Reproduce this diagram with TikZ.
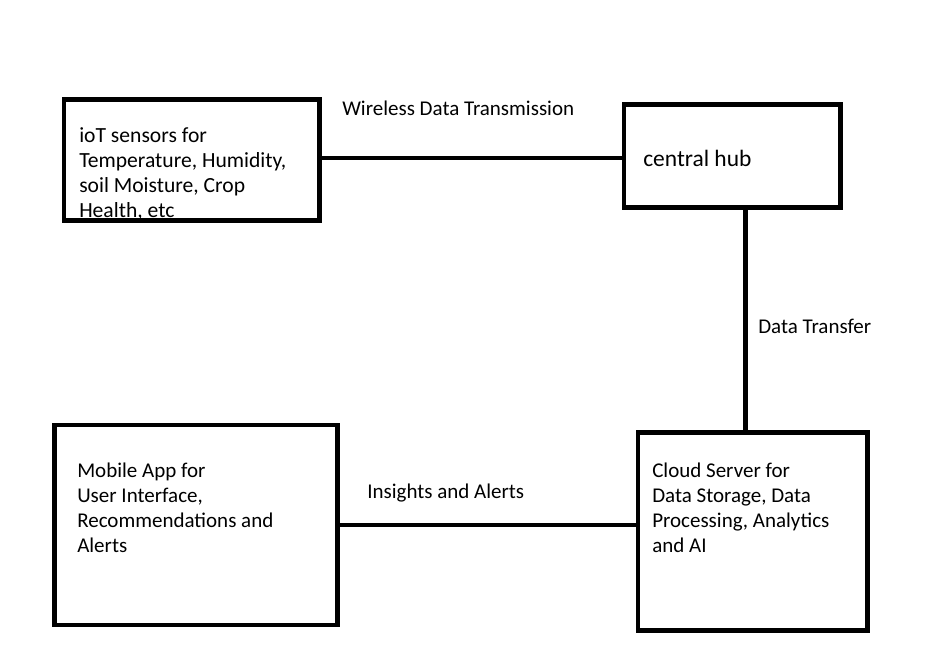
\documentclass[tikz,border=0pt]{standalone}
\usepackage{fontspec}
\setmainfont{Carlito}
\usetikzlibrary{positioning,calc}

\tikzset{
  block/.style={draw=black, line width=3.5pt, inner sep=0pt},
  boxtext/.style={align=left, inner sep=0pt, anchor=north west,
                  font=\fontsize{15.75}{18.75}\selectfont},
  linklabel/.style={inner sep=0pt, anchor=base west,
                    font=\fontsize{15.75}{18.75}\selectfont},
  link/.style={line width=3.5pt},
}

\begin{document}
\begin{tikzpicture}[x=0.75pt,y=-0.75pt]
  \useasboundingbox (0,0) rectangle (941,648);

  % boxes
  \node[block, minimum width=191.6pt, minimum height=90.75pt] (iot) at (191.75,160) {};
  \node[block, minimum width=162.4pt, minimum height=77.25pt] (hub) at (732.25,156) {};
  \node[block, minimum width=172.1pt, minimum height=148.5pt] (cloud) at (752.75,531.5) {};
  \node[block, minimum width=212.25pt, minimum height=150pt] (mobile) at (196,525) {};

  % box texts
  \node[boxtext, font=\fontsize{16.2}{18.9}\selectfont] (iottext) at (79,127) {ioT sensors for\\
    Temperature, Humidity,\\
    soil Moisture, Crop\\
    Health, etc};
  \node[linklabel, font=\fontsize{17.6}{21}\selectfont] (hubtext) at (643,166.7) {central hub};
  \node[boxtext] (cloudtext) at (652,463) {Cloud Server for\\
    Data Storage, Data\\
    Processing, Analytics\\
    and AI};
  \node[boxtext] (mobiletext) at (77,463) {Mobile App for\\
    User Interface,\\
    Recommendations and\\
    Alerts};

  % connectors
  \draw[link] (iot.east |- 0,158) -- (hub.west |- 0,158);
  \draw[link] ([xshift=10pt]hub.south) -- ([xshift=10pt]hub.south |- cloud.north);
  \draw[link] (mobile.east) -- (mobile.east -| cloud.west);

  % connector labels
  \node[linklabel] (wireless) at (342,116) {Wireless Data Transmission};
  \node[linklabel] (transfer) at (758,333) {Data Transfer};
  \node[linklabel] (insights) at (367,498) {Insights and Alerts};
\end{tikzpicture}
\end{document}
